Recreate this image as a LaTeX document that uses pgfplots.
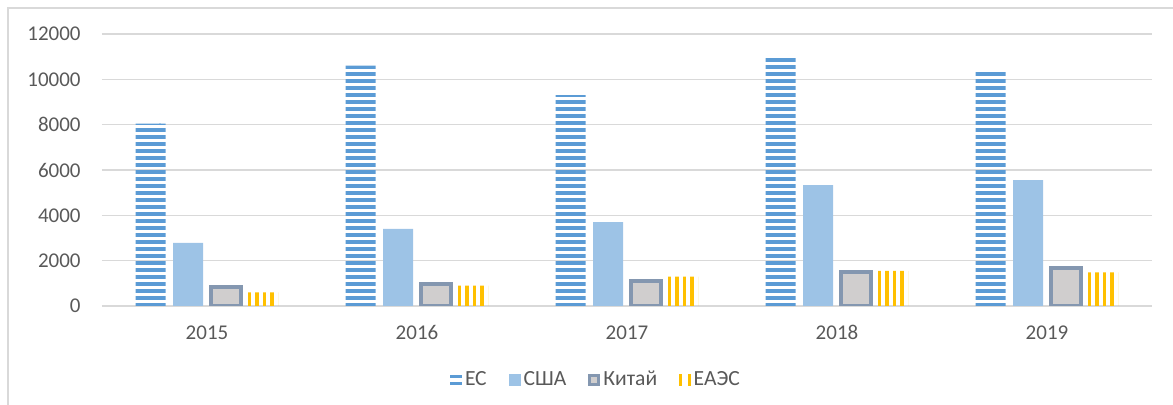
\documentclass[border=0pt]{standalone}
\usepackage{pgfplots}
\pgfplotsset{compat=1.18}
\usepackage{fontspec}
\setmainfont{Carlito}
\usetikzlibrary{patterns}
\definecolor{esblue}{HTML}{5B9BD5}
\definecolor{usablue}{HTML}{9DC3E6}
\definecolor{chfill}{HTML}{D0CECE}
\definecolor{chedge}{HTML}{8497B0}
\definecolor{eayel}{HTML}{FFC000}
\definecolor{gridc}{HTML}{D9D9D9}
\definecolor{txt}{HTML}{595959}
\pgfdeclarepatternformonly{hstripes}{\pgfqpoint{-0.5pt}{0pt}}{\pgfqpoint{40.5pt}{3.5pt}}{\pgfqpoint{40pt}{3.5pt}}{%
  \pgfpathrectangle{\pgfqpoint{-0.5pt}{0pt}}{\pgfqpoint{41pt}{1.9pt}}\pgfusepath{fill}}
\pgfdeclarepatternformonly{vstripes}{\pgfqpoint{0pt}{-0.5pt}}{\pgfqpoint{3.75pt}{40.5pt}}{\pgfqpoint{3.75pt}{40pt}}{%
  \pgfpathrectangle{\pgfqpoint{0pt}{-0.5pt}}{\pgfqpoint{1.9pt}{41pt}}\pgfusepath{fill}}
\begin{document}
\begin{tikzpicture}
\path[use as bounding box] (-51pt,-49.5pt) rectangle (535.5pt,153pt);
\draw[gridc, line width=0.6pt] (-47pt,-80pt) -- (-47pt,149pt) -- (600pt,149pt);
\begin{axis}[
  scale only axis,
  width=525pt, height=136pt,
  ybar=3.75pt, bar width=15pt,
  xmin=-0.5, xmax=4.5,
  ymin=0, ymax=12000,
  scaled y ticks=false,
  xtick={0,1,2,3,4},
  xticklabels={2015,2016,2017,2018,2019},
  ytick={0,2000,4000,6000,8000,10000,12000},
  yticklabels={0,2000,4000,6000,8000,10000,12000},
  major tick length=0pt,
  axis line style={draw=none},
  ymajorgrids, grid style={gridc, line width=0.8pt},
  tick label style={font=\fontsize{10.5}{12}\selectfont, text=txt},
  yticklabel style={anchor=east, inner sep=0pt, xshift=-10.5pt},
  xticklabel style={anchor=north, inner sep=0pt, yshift=-9.5pt},
  legend style={draw=none, at={(0.471,-0.272)}, anchor=center,
    legend columns=-1, font=\fontsize{10.8}{12}\selectfont, text=txt,
    /tikz/every even column/.append style={column sep=9.5pt},
    nodes={inner sep=1.5pt}},
]
\addplot[draw=none, pattern=hstripes, pattern color=esblue,
  legend image code/.code={\fill[esblue] (0pt,-2.6pt) rectangle (6pt,-1.2pt); \fill[esblue] (0pt,0.9pt) rectangle (6pt,2.3pt);}]
  coordinates {(0,8050) (1,10600) (2,9300) (3,10980) (4,10320)};
\addlegendentry{ЕС}
\addplot[draw=none, fill=usablue,
  legend image code/.code={\fill[usablue] (0pt,-3pt) rectangle (6pt,3pt);}]
  coordinates {(0,2780) (1,3400) (2,3700) (3,5330) (4,5550)};
\addlegendentry{США}
\addplot[draw=chedge, line width=2pt, fill=chfill,
  legend image code/.code={\draw[chedge, fill=chfill, line width=1.5pt] (0.75pt,-2.25pt) rectangle (5.25pt,2.25pt);}]
  coordinates {(0,860) (1,980) (2,1120) (3,1500) (4,1680)};
\addlegendentry{Китай}
\addplot[draw=none, pattern=vstripes, pattern color=eayel,
  legend image code/.code={\fill[eayel] (0pt,-3pt) rectangle (1.4pt,3pt); \fill[eayel] (4.3pt,-3pt) rectangle (5.7pt,3pt);}]
  coordinates {(0,600) (1,900) (2,1300) (3,1550) (4,1480)};
\addlegendentry{ЕАЭС}
\end{axis}
\end{tikzpicture}
\end{document}
